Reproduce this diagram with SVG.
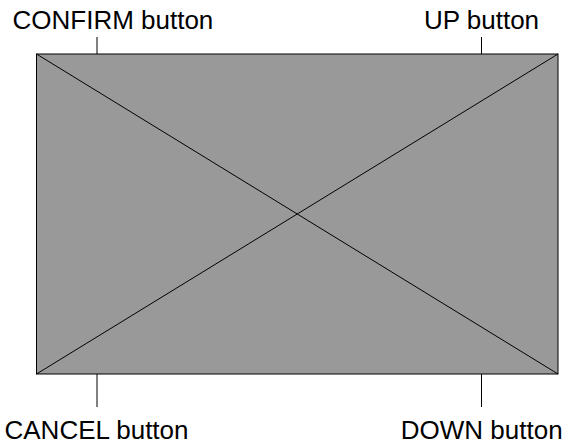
<svg xmlns="http://www.w3.org/2000/svg" width="576" height="445" viewBox="0 0 576 445">
<style>
.ln{stroke:#000;stroke-width:1;fill:none}
.lbl{font-family:"Liberation Sans",Arial,sans-serif;font-size:26px;fill:#000}
</style>
<rect width="576" height="445" fill="#fff"/>
<g id="screen">
<rect x="36.5" y="54" width="521.5" height="320" fill="#999999" stroke="#000" stroke-width="1"/>
<line class="ln" x1="36.5" y1="54" x2="558" y2="374"/>
<line class="ln" x1="36.5" y1="374" x2="558" y2="54"/>
</g>
<g id="connectors">
<line class="ln" x1="97" y1="37" x2="97" y2="54"/>
<line class="ln" x1="481.5" y1="37" x2="481.5" y2="54"/>
<line class="ln" x1="97" y1="374" x2="97" y2="407"/>
<line class="ln" x1="481.5" y1="374" x2="481.5" y2="407"/>
</g>
<g id="confirm"><text class="lbl" x="12.5" y="28.5">CONFIRM button</text></g>
<g id="up"><text class="lbl" x="481.5" y="28.5" text-anchor="middle">UP button</text></g>
<g id="cancel"><text class="lbl" x="96.5" y="438.5" text-anchor="middle">CANCEL button</text></g>
<g id="down"><text class="lbl" x="481.7" y="438.5" text-anchor="middle">DOWN button</text></g>
</svg>
